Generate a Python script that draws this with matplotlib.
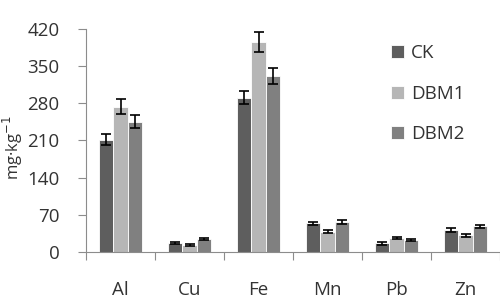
import numpy as np
import matplotlib
matplotlib.use("Agg")
from matplotlib import pyplot as plt

plt.rcParams['font.family'] = ['Open Sans', 'DejaVu Sans']

elements = ['Al', 'Cu', 'Fe', 'Mn', 'Pb', 'Zn']
series = ['CK', 'DBM1', 'DBM2']
ck = [211, 17, 290, 54, 16, 41]
dbm1 = [273, 13, 395, 38, 26, 31]
dbm2 = [245, 24, 331, 57, 22, 48]
ck_err = [10, 2, 12, 3, 2, 4]
dbm1_err = [14, 2, 18, 3, 2, 2]
dbm2_err = [12, 2, 15, 4, 2, 3]
yticks = [0, 70, 140, 210, 280, 350, 420]

colors = ['#5e5e5e', '#b6b6b6', '#808080']

fig = plt.figure(figsize=(5, 3.08), dpi=100)
ax = fig.add_axes([0.172, 0.182, 0.828, 0.725])

x = np.arange(len(elements))
w = 0.21
vals = [ck, dbm1, dbm2]
errs = [ck_err, dbm1_err, dbm2_err]
for i in range(3):
    ax.bar(x + (i - 1) * w, vals[i], w, color=colors[i], edgecolor='white',
           linewidth=0.6, label=series[i], yerr=errs[i],
           error_kw=dict(ecolor='black', elinewidth=1.2, capsize=3.5, capthick=1.2))

ax.set_xlim(-0.5, len(elements) - 0.5)
ax.set_ylim(0, 420)
ax.set_yticks(yticks)
ax.tick_params(axis='y', labelsize=13.5, colors='#333333', length=6, width=0.8,
               color='#8c8c8c', pad=13)
ax.set_xticks(x)
ax.set_xticklabels(elements)
ax.set_xticks(np.arange(len(elements) + 1) - 0.5, minor=True)
ax.tick_params(axis='x', which='major', length=0, labelsize=13.5, colors='#333333', pad=21)
ax.tick_params(axis='x', which='minor', length=6, width=0.8, color='#8c8c8c')

for s in ['top', 'right']:
    ax.spines[s].set_visible(False)
for s in ['left', 'bottom']:
    ax.spines[s].set_color('#8c8c8c')
    ax.spines[s].set_linewidth(0.8)

fig.text(0.025, 0.52, 'mg·kg$^{-1}$', rotation=90, ha='center', va='center',
         fontsize=12, color='#333333')

leg = ax.legend(loc='upper left', bbox_to_anchor=(0.695, 1.005), frameon=False,
                fontsize=13.5, handlelength=0.7, handleheight=0.7,
                handletextpad=0.4, labelspacing=1.2)
for t in leg.get_texts():
    t.set_color('#333333')

fig.savefig('out.png', dpi=100)
